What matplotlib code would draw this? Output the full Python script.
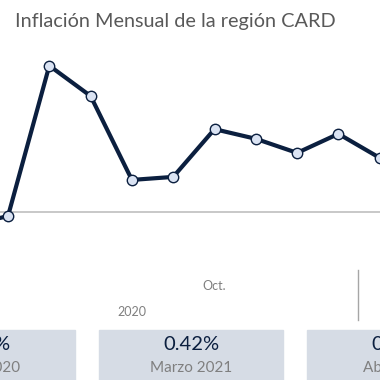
import matplotlib.pyplot as plt
from matplotlib.patches import Rectangle

# Inflación mensual (%)
posiciones = [0, 1, 2, 3, 4, 5, 6, 7, 8, 9, 10]
inflacion = [-0.05, -0.015, 0.53, 0.42, 0.116, 0.127, 0.30, 0.265, 0.214, 0.283, 0.196]
etiqueta_mes = "Oct."
pos_mes = 6
etiqueta_anio = "2020"
pos_anio = 4
pos_separador = 9.47

# Tarjetas de resumen
tarjetas_valor = ["0.53%", "0.42%", "0.30%"]
tarjetas_fecha = ["Junio 2020", "Marzo 2021", "Abril 2021"]

W = H = 380
fig = plt.figure(figsize=(3.8, 3.8), dpi=100)
ax = fig.add_axes([0, 0, 1, 1])
ax.set_xlim(0.806, 10.007)
ax.set_ylim(-0.609, 0.768)
ax.axis("off")

ax.axhline(0, color="#bfbfbf", lw=1.2, zorder=1)
ax.plot(posiciones, inflacion, color="#0b1f3f", lw=3, marker="o", ms=7.5,
        mfc="#dae3f3", mec="#0b1f3f", mew=1.0, zorder=3, clip_on=False)

ax.text(pos_mes, -0.27, etiqueta_mes, ha="center", va="center",
        fontsize=9, color="#7f7f7f", family="Lato")
ax.text(pos_anio, -0.362, etiqueta_anio, ha="center", va="center",
        fontsize=9, color="#7f7f7f", family="Lato")
ax.plot([pos_separador, pos_separador], [-0.21, -0.39], color="#a6a6a6", lw=1)

fig.text(15 / W, 1 - 21 / H, "Inflación Mensual de la región CARD",
         ha="left", va="center", fontsize=14.3, color="#595959", family="Lato")

# Tarjetas (recortadas por el borde como en el original)
cajas = [(-110, 75), (99, 283), (307, 491)]
for (x0, x1), val, fecha in zip(cajas, tarjetas_valor, tarjetas_fecha):
    fig.patches.append(Rectangle((x0 / W, 0), (x1 - x0) / W, 50 / H,
                                 transform=fig.transFigure, color="#d6dce5",
                                 zorder=0))
    cx = (x0 + x1) / 2 / W
    fig.text(cx, 1 - 345 / H, val, ha="center", va="center",
             fontsize=14.5, color="#0b1f3f", family="Lato")
    fig.text(cx, 1 - 368 / H, fecha, ha="center", va="center",
             fontsize=11, color="#7f7f7f", family="Lato")

fig.savefig("out.png", dpi=100)
